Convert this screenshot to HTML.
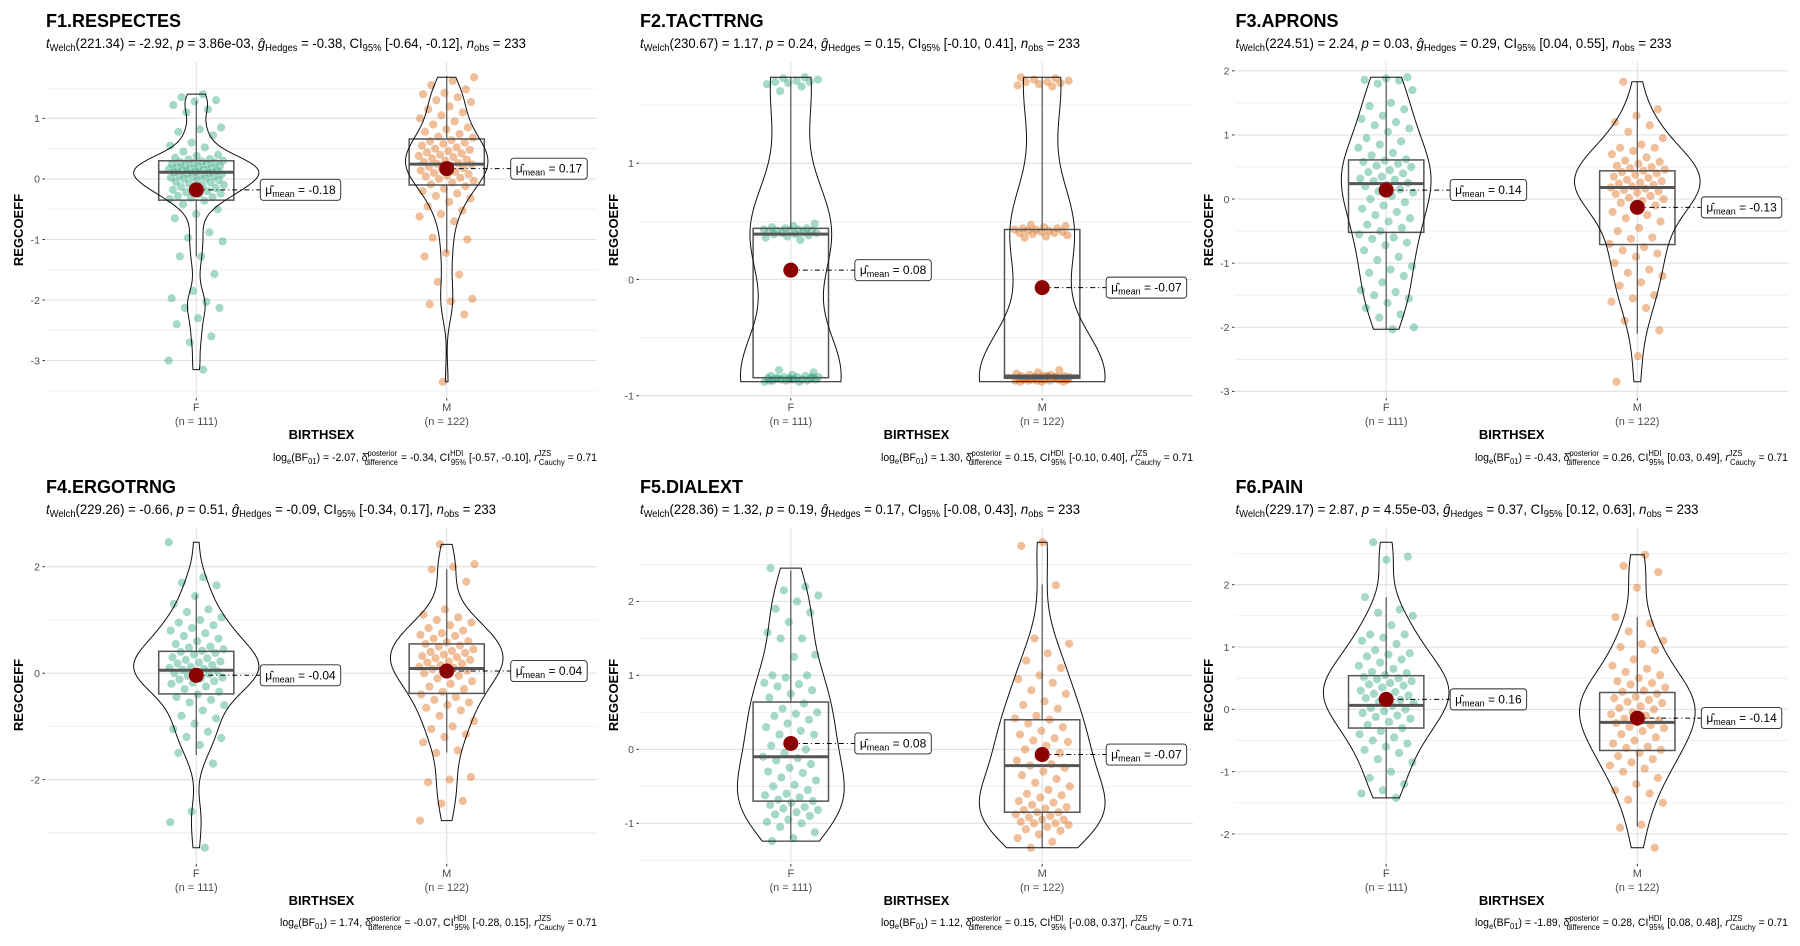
<!DOCTYPE html>
<html><head><meta charset="utf-8"><title>REGCOEFF by BIRTHSEX</title>
<style>
html,body{margin:0;padding:0;background:#fff;}
svg{display:block;font-family:"Liberation Sans",Arial,sans-serif;}
</style></head>
<body>
<svg id="chart" xmlns="http://www.w3.org/2000/svg" width="1800" height="946" viewBox="0 0 1800 946">
<rect x="0" y="0" width="1800" height="946" fill="#fff"/>
<g id="marks"></g>
<g id="texts" fill="#000">
<text x="46" y="27" font-size="18" font-weight="bold">F1.RESPECTES</text>
<text x="640" y="27" font-size="18" font-weight="bold">F2.TACTTRNG</text>
<text x="1235.5" y="27" font-size="18" font-weight="bold">F3.APRONS</text>
<text x="46" y="493" font-size="18" font-weight="bold">F4.ERGOTRNG</text>
<text x="640" y="493" font-size="18" font-weight="bold">F5.DIALEXT</text>
<text x="1235.5" y="493" font-size="18" font-weight="bold">F6.PAIN</text>
<text x="46" y="48" font-size="14" textLength="480" lengthAdjust="spacingAndGlyphs"><tspan font-style="italic">t</tspan><tspan font-size="10" dy="3">Welch</tspan><tspan dy="-3">(221.34) = -2.92, </tspan><tspan font-style="italic">p</tspan><tspan> = 3.86e-03, </tspan><tspan font-style="italic">ĝ</tspan><tspan font-size="10" dy="3">Hedges</tspan><tspan dy="-3"> = -0.38, CI</tspan><tspan font-size="10" dy="3">95%</tspan><tspan dy="-3"> [-0.64, -0.12], </tspan><tspan font-style="italic">n</tspan><tspan font-size="10" dy="3">obs</tspan><tspan dy="-3"> = 233</tspan></text>
<text x="640" y="48" font-size="14" textLength="440" lengthAdjust="spacingAndGlyphs"><tspan font-style="italic">t</tspan><tspan font-size="10" dy="3">Welch</tspan><tspan dy="-3">(230.67) = 1.17, </tspan><tspan font-style="italic">p</tspan><tspan> = 0.24, </tspan><tspan font-style="italic">ĝ</tspan><tspan font-size="10" dy="3">Hedges</tspan><tspan dy="-3"> = 0.15, CI</tspan><tspan font-size="10" dy="3">95%</tspan><tspan dy="-3"> [-0.10, 0.41], </tspan><tspan font-style="italic">n</tspan><tspan font-size="10" dy="3">obs</tspan><tspan dy="-3"> = 233</tspan></text>
<text x="1235.5" y="48" font-size="14" textLength="436" lengthAdjust="spacingAndGlyphs"><tspan font-style="italic">t</tspan><tspan font-size="10" dy="3">Welch</tspan><tspan dy="-3">(224.51) = 2.24, </tspan><tspan font-style="italic">p</tspan><tspan> = 0.03, </tspan><tspan font-style="italic">ĝ</tspan><tspan font-size="10" dy="3">Hedges</tspan><tspan dy="-3"> = 0.29, CI</tspan><tspan font-size="10" dy="3">95%</tspan><tspan dy="-3"> [0.04, 0.55], </tspan><tspan font-style="italic">n</tspan><tspan font-size="10" dy="3">obs</tspan><tspan dy="-3"> = 233</tspan></text>
<text x="46" y="514" font-size="14" textLength="450" lengthAdjust="spacingAndGlyphs"><tspan font-style="italic">t</tspan><tspan font-size="10" dy="3">Welch</tspan><tspan dy="-3">(229.26) = -0.66, </tspan><tspan font-style="italic">p</tspan><tspan> = 0.51, </tspan><tspan font-style="italic">ĝ</tspan><tspan font-size="10" dy="3">Hedges</tspan><tspan dy="-3"> = -0.09, CI</tspan><tspan font-size="10" dy="3">95%</tspan><tspan dy="-3"> [-0.34, 0.17], </tspan><tspan font-style="italic">n</tspan><tspan font-size="10" dy="3">obs</tspan><tspan dy="-3"> = 233</tspan></text>
<text x="640" y="514" font-size="14" textLength="440" lengthAdjust="spacingAndGlyphs"><tspan font-style="italic">t</tspan><tspan font-size="10" dy="3">Welch</tspan><tspan dy="-3">(228.36) = 1.32, </tspan><tspan font-style="italic">p</tspan><tspan> = 0.19, </tspan><tspan font-style="italic">ĝ</tspan><tspan font-size="10" dy="3">Hedges</tspan><tspan dy="-3"> = 0.17, CI</tspan><tspan font-size="10" dy="3">95%</tspan><tspan dy="-3"> [-0.08, 0.43], </tspan><tspan font-style="italic">n</tspan><tspan font-size="10" dy="3">obs</tspan><tspan dy="-3"> = 233</tspan></text>
<text x="1235.5" y="514" font-size="14" textLength="463" lengthAdjust="spacingAndGlyphs"><tspan font-style="italic">t</tspan><tspan font-size="10" dy="3">Welch</tspan><tspan dy="-3">(229.17) = 2.87, </tspan><tspan font-style="italic">p</tspan><tspan> = 4.55e-03, </tspan><tspan font-style="italic">ĝ</tspan><tspan font-size="10" dy="3">Hedges</tspan><tspan dy="-3"> = 0.37, CI</tspan><tspan font-size="10" dy="3">95%</tspan><tspan dy="-3"> [0.12, 0.63], </tspan><tspan font-style="italic">n</tspan><tspan font-size="10" dy="3">obs</tspan><tspan dy="-3"> = 233</tspan></text>
<text x="273" y="461" font-size="11" textLength="324" lengthAdjust="spacingAndGlyphs">log<tspan font-size="8" dy="3">e</tspan><tspan dy="-3">(BF</tspan><tspan font-size="8" dy="3">01</tspan><tspan dy="-3">) = -2.07, δ̂</tspan><tspan font-size="8" dy="-5">posterior</tspan><tspan font-size="8" dx="-34" dy="9">difference</tspan><tspan dy="-4"> = -0.34, CI</tspan><tspan font-size="8" dy="-5">HDI</tspan><tspan font-size="8" dx="-13" dy="9">95%</tspan><tspan dy="-4"> [-0.57, -0.10], </tspan><tspan font-style="italic">r</tspan><tspan font-size="8" dy="-5">JZS</tspan><tspan font-size="8" dx="-13" dy="9">Cauchy</tspan><tspan dy="-4"> = 0.71</tspan></text>
<text x="881" y="461" font-size="11" textLength="312" lengthAdjust="spacingAndGlyphs">log<tspan font-size="8" dy="3">e</tspan><tspan dy="-3">(BF</tspan><tspan font-size="8" dy="3">01</tspan><tspan dy="-3">) = 1.30, δ̂</tspan><tspan font-size="8" dy="-5">posterior</tspan><tspan font-size="8" dx="-34" dy="9">difference</tspan><tspan dy="-4"> = 0.15, CI</tspan><tspan font-size="8" dy="-5">HDI</tspan><tspan font-size="8" dx="-13" dy="9">95%</tspan><tspan dy="-4"> [-0.10, 0.40], </tspan><tspan font-style="italic">r</tspan><tspan font-size="8" dy="-5">JZS</tspan><tspan font-size="8" dx="-13" dy="9">Cauchy</tspan><tspan dy="-4"> = 0.71</tspan></text>
<text x="1475" y="461" font-size="11" textLength="313" lengthAdjust="spacingAndGlyphs">log<tspan font-size="8" dy="3">e</tspan><tspan dy="-3">(BF</tspan><tspan font-size="8" dy="3">01</tspan><tspan dy="-3">) = -0.43, δ̂</tspan><tspan font-size="8" dy="-5">posterior</tspan><tspan font-size="8" dx="-34" dy="9">difference</tspan><tspan dy="-4"> = 0.26, CI</tspan><tspan font-size="8" dy="-5">HDI</tspan><tspan font-size="8" dx="-13" dy="9">95%</tspan><tspan dy="-4"> [0.03, 0.49], </tspan><tspan font-style="italic">r</tspan><tspan font-size="8" dy="-5">JZS</tspan><tspan font-size="8" dx="-13" dy="9">Cauchy</tspan><tspan dy="-4"> = 0.71</tspan></text>
<text x="280" y="926" font-size="11" textLength="317" lengthAdjust="spacingAndGlyphs">log<tspan font-size="8" dy="3">e</tspan><tspan dy="-3">(BF</tspan><tspan font-size="8" dy="3">01</tspan><tspan dy="-3">) = 1.74, δ̂</tspan><tspan font-size="8" dy="-5">posterior</tspan><tspan font-size="8" dx="-34" dy="9">difference</tspan><tspan dy="-4"> = -0.07, CI</tspan><tspan font-size="8" dy="-5">HDI</tspan><tspan font-size="8" dx="-13" dy="9">95%</tspan><tspan dy="-4"> [-0.28, 0.15], </tspan><tspan font-style="italic">r</tspan><tspan font-size="8" dy="-5">JZS</tspan><tspan font-size="8" dx="-13" dy="9">Cauchy</tspan><tspan dy="-4"> = 0.71</tspan></text>
<text x="881" y="926" font-size="11" textLength="312" lengthAdjust="spacingAndGlyphs">log<tspan font-size="8" dy="3">e</tspan><tspan dy="-3">(BF</tspan><tspan font-size="8" dy="3">01</tspan><tspan dy="-3">) = 1.12, δ̂</tspan><tspan font-size="8" dy="-5">posterior</tspan><tspan font-size="8" dx="-34" dy="9">difference</tspan><tspan dy="-4"> = 0.15, CI</tspan><tspan font-size="8" dy="-5">HDI</tspan><tspan font-size="8" dx="-13" dy="9">95%</tspan><tspan dy="-4"> [-0.08, 0.37], </tspan><tspan font-style="italic">r</tspan><tspan font-size="8" dy="-5">JZS</tspan><tspan font-size="8" dx="-13" dy="9">Cauchy</tspan><tspan dy="-4"> = 0.71</tspan></text>
<text x="1475" y="926" font-size="11" textLength="313" lengthAdjust="spacingAndGlyphs">log<tspan font-size="8" dy="3">e</tspan><tspan dy="-3">(BF</tspan><tspan font-size="8" dy="3">01</tspan><tspan dy="-3">) = -1.89, δ̂</tspan><tspan font-size="8" dy="-5">posterior</tspan><tspan font-size="8" dx="-34" dy="9">difference</tspan><tspan dy="-4"> = 0.28, CI</tspan><tspan font-size="8" dy="-5">HDI</tspan><tspan font-size="8" dx="-13" dy="9">95%</tspan><tspan dy="-4"> [0.08, 0.48], </tspan><tspan font-style="italic">r</tspan><tspan font-size="8" dy="-5">JZS</tspan><tspan font-size="8" dx="-13" dy="9">Cauchy</tspan><tspan dy="-4"> = 0.71</tspan></text>
<text x="321.5" y="439" font-size="13" font-weight="bold" text-anchor="middle">BIRTHSEX</text>
<text x="916.5" y="439" font-size="13" font-weight="bold" text-anchor="middle">BIRTHSEX</text>
<text x="1511.7" y="439" font-size="13" font-weight="bold" text-anchor="middle">BIRTHSEX</text>
<text x="321.5" y="905" font-size="13" font-weight="bold" text-anchor="middle">BIRTHSEX</text>
<text x="916.5" y="905" font-size="13" font-weight="bold" text-anchor="middle">BIRTHSEX</text>
<text x="1511.7" y="905" font-size="13" font-weight="bold" text-anchor="middle">BIRTHSEX</text>
<text transform="translate(23,230) rotate(-90)" font-size="13" font-weight="bold" text-anchor="middle">REGCOEFF</text>
<text transform="translate(618,230) rotate(-90)" font-size="13" font-weight="bold" text-anchor="middle">REGCOEFF</text>
<text transform="translate(1213,230) rotate(-90)" font-size="13" font-weight="bold" text-anchor="middle">REGCOEFF</text>
<text transform="translate(23,695) rotate(-90)" font-size="13" font-weight="bold" text-anchor="middle">REGCOEFF</text>
<text transform="translate(618,695) rotate(-90)" font-size="13" font-weight="bold" text-anchor="middle">REGCOEFF</text>
<text transform="translate(1213,695) rotate(-90)" font-size="13" font-weight="bold" text-anchor="middle">REGCOEFF</text>
</g>
</svg>
<script>
const categories = ["F", "M"];
const groupCounts = [111, 122];
const panelNames = ["f1-respectes", "f2-tacttrng", "f3-aprons", "f4-ergotrng", "f5-dialext", "f6-pain"];

const f1Values = [1.40,1.35,1.30,1.28,1.22,1.15,1.10,0.85,0.82,0.78,0.72,0.60,0.55,0.52,0.45,0.40,0.38,0.35,0.33,
 0.32,0.30,0.29,0.28,0.27,0.26,0.25,0.24,0.22,0.21,0.20,0.19,0.18,0.17,0.16,0.15,0.14,0.13,0.12,0.11,0.10,0.09,0.08,0.07,0.06,0.05,0.04,0.02,0.01,0.0,
 -0.02,-0.03,-0.05,-0.06,-0.08,-0.10,-0.11,-0.13,-0.15,-0.16,-0.18,-0.20,-0.22,-0.24,-0.25,-0.28,-0.30,-0.31,-0.33,-0.36,
 -0.42,-0.50,-0.58,-0.65,-0.88,-0.97,-1.03,-1.28,-1.28,-1.57,-1.85,-1.97,-2.03,-2.13,-2.13,-2.30,-2.40,-2.60,-2.70,-3.00,-3.15];
const m1Values = [1.68,1.62,1.55,1.48,1.42,1.40,1.35,1.30,1.27,1.20,1.15,1.10,1.05,1.00,0.95,0.90,0.85,0.82,0.78,0.74,0.70,0.68,
 0.64,0.62,0.60,0.58,0.55,0.52,0.50,0.48,0.46,0.44,0.42,0.40,0.38,0.36,0.34,0.32,0.30,0.28,0.26,0.25,0.24,0.22,0.20,0.18,0.16,0.14,0.12,0.10,0.08,0.06,0.04,0.02,0.0,-0.03,-0.06,-0.09,
 -0.12,-0.16,-0.20,-0.24,-0.28,-0.32,-0.38,-0.45,-0.52,-0.58,-0.62,-0.70,-0.97,-1.00,-1.22,-1.28,-1.58,-1.70,-1.98,-2.02,-2.07,-2.24,-3.35];

const f2Values = [1.74,1.73,1.72,1.71,1.70,1.70,1.69,1.68,1.66,1.62,
 0.48,0.46,0.45,0.44,0.44,0.43,0.43,0.42,0.42,0.42,0.41,0.41,0.40,0.40,0.39,0.39,0.38,0.37,0.36,0.34,
 -0.78,-0.80,-0.82,-0.83,-0.83,-0.84,-0.84,-0.84,-0.85,-0.85,-0.85,-0.85,-0.86,-0.86,-0.86,-0.86,-0.87,-0.87,-0.87,-0.88,-0.88,-0.85,-0.84,-0.86,-0.87];
const m2Values = [1.74,1.73,1.72,1.71,1.70,1.70,1.69,1.68,1.67,1.66,
 0.47,0.46,0.45,0.44,0.44,0.43,0.43,0.42,0.42,0.41,0.41,0.40,0.40,0.39,0.38,0.37,0.36,
 -0.78,-0.80,-0.81,-0.82,-0.82,-0.83,-0.83,-0.83,-0.84,-0.84,-0.84,-0.84,-0.85,-0.85,-0.85,-0.85,-0.85,-0.86,-0.86,-0.86,-0.86,-0.86,-0.87,-0.87,-0.87,-0.87,-0.88,-0.88,-0.88,-0.84,-0.85,-0.86,-0.83,-0.85];

const f3Values = [1.90,1.88,1.86,1.85,1.80,1.70,1.50,1.45,1.40,1.30,1.25,1.20,1.15,1.10,1.05,0.95,0.90,0.85,0.80,0.72,0.68,0.62,0.60,0.58,0.55,0.52,0.50,0.45,0.42,0.40,0.35,0.32,0.30,0.28,0.25,0.22,0.20,0.15,0.12,0.10,0.05,0.0,-0.05,-0.10,-0.15,-0.20,-0.25,-0.30,-0.35,-0.40,-0.45,-0.50,-0.55,-0.60,-0.62,-0.68,-0.72,-0.80,-0.90,-0.95,-1.05,-1.10,-1.15,-1.20,-1.30,-1.42,-1.45,-1.50,-1.55,-1.62,-1.70,-1.80,-1.85,-2.00,-2.03];
const m3Values = [1.83,1.40,1.30,1.20,1.15,1.05,0.95,0.85,0.80,0.80,0.75,0.70,0.65,0.60,0.58,0.55,0.52,0.50,0.48,0.46,0.44,0.42,0.40,0.38,0.35,0.33,0.30,0.28,0.26,0.24,0.22,0.20,0.18,0.16,0.14,0.12,0.10,0.08,0.05,0.02,0.0,-0.03,-0.06,-0.10,-0.15,-0.20,-0.25,-0.30,-0.35,-0.45,-0.50,-0.60,-0.62,-0.70,-0.75,-0.80,-0.85,-0.90,-1.00,-1.10,-1.15,-1.20,-1.30,-1.35,-1.50,-1.55,-1.60,-1.70,-1.90,-2.05,-2.45,-2.85];

const f4Values = [2.46,1.80,1.70,1.65,1.45,1.30,1.20,1.15,1.05,1.00,0.95,0.90,0.85,0.80,0.75,0.70,0.65,0.60,0.55,0.50,0.48,0.45,0.42,0.40,0.38,0.35,0.30,0.28,0.25,0.22,0.20,0.18,0.15,0.12,0.10,0.08,0.06,0.04,0.02,0.0,-0.02,-0.05,-0.08,-0.10,-0.12,-0.15,-0.18,-0.20,-0.25,-0.30,-0.35,-0.40,-0.45,-0.50,-0.55,-0.60,-0.70,-0.80,-0.85,-0.95,-1.05,-1.10,-1.20,-1.22,-1.35,-1.50,-1.70,-2.60,-2.80,-3.28];
const m4Values = [2.42,2.05,2.00,1.95,1.72,1.20,1.10,1.05,1.00,0.95,0.90,0.85,0.80,0.75,0.72,0.70,0.65,0.60,0.58,0.55,0.52,0.50,0.45,0.42,0.40,0.38,0.35,0.32,0.30,0.28,0.25,0.22,0.20,0.18,0.15,0.12,0.10,0.08,0.05,0.02,0.0,-0.05,-0.10,-0.15,-0.20,-0.25,-0.30,-0.35,-0.40,-0.45,-0.50,-0.55,-0.60,-0.65,-0.70,-0.80,-0.90,-1.00,-1.05,-1.15,-1.20,-1.30,-1.45,-1.50,-1.95,-2.00,-2.05,-2.40,-2.45,-2.77];

const f5Values = [2.45,2.20,2.15,2.08,2.00,1.90,1.85,1.72,1.58,1.50,1.50,1.28,1.25,1.00,1.00,0.97,0.90,0.88,0.85,0.80,0.75,0.70,0.62,0.55,0.50,0.48,0.45,0.40,0.35,0.30,0.25,0.20,0.20,0.12,0.05,0.0,-0.05,-0.10,-0.12,-0.15,-0.20,-0.25,-0.30,-0.32,-0.38,-0.42,-0.48,-0.50,-0.55,-0.60,-0.62,-0.65,-0.68,-0.70,-0.72,-0.75,-0.78,-0.80,-0.82,-0.85,-0.88,-0.90,-0.95,-0.98,-1.00,-1.05,-1.12,-1.20,-1.24];
const m5Values = [2.80,2.75,2.22,1.50,1.43,1.30,1.20,1.10,1.00,0.95,0.90,0.80,0.75,0.65,0.60,0.55,0.45,0.42,0.40,0.35,0.30,0.25,0.20,0.15,0.12,0.10,0.05,0.0,-0.05,-0.10,-0.15,-0.20,-0.22,-0.25,-0.30,-0.35,-0.40,-0.45,-0.50,-0.55,-0.60,-0.62,-0.65,-0.70,-0.72,-0.75,-0.78,-0.80,-0.82,-0.85,-0.85,-0.88,-0.90,-0.92,-0.95,-0.95,-0.98,-1.00,-1.00,-1.02,-1.05,-1.08,-1.10,-1.15,-1.20,-1.25,-1.33];

const f6Values = [2.68,2.45,2.40,1.80,1.60,1.55,1.50,1.35,1.20,1.20,1.15,1.10,1.05,0.95,0.90,0.88,0.85,0.80,0.75,0.70,0.65,0.60,0.58,0.55,0.52,0.50,0.48,0.45,0.42,0.40,0.38,0.35,0.30,0.28,0.25,0.22,0.20,0.18,0.15,0.12,0.10,0.06,0.02,0.0,-0.03,-0.06,-0.10,-0.12,-0.15,-0.20,-0.25,-0.30,-0.35,-0.40,-0.45,-0.50,-0.55,-0.60,-0.65,-0.70,-0.80,-0.85,-1.00,-1.10,-1.20,-1.30,-1.35,-1.42];
const m6Values = [2.48,2.30,2.20,1.95,1.48,1.38,1.25,1.10,1.05,1.00,0.95,0.80,0.70,0.65,0.60,0.55,0.50,0.45,0.42,0.40,0.35,0.30,0.28,0.25,0.20,0.18,0.15,0.12,0.10,0.05,0.02,0.0,-0.05,-0.08,-0.10,-0.15,-0.18,-0.20,-0.22,-0.25,-0.28,-0.30,-0.35,-0.40,-0.45,-0.50,-0.55,-0.60,-0.62,-0.65,-0.70,-0.75,-0.80,-0.85,-0.90,-0.95,-1.00,-1.10,-1.20,-1.30,-1.35,-1.45,-1.50,-1.85,-1.90,-2.22];

const q1F  = [-0.35, -0.845, -0.52, -0.39, -0.70, -0.30];
const medF = [ 0.11,  0.39,   0.24,  0.056,-0.10,  0.064];
const q3F  = [ 0.30,  0.44,   0.61,  0.41,  0.64,  0.54];
const loF  = [-1.28, -0.88,  -2.03, -1.54, -1.22, -1.42];
const hiF  = [ 1.29,  1.74,   1.89,  1.48,  2.42,  1.80];
const q1M  = [-0.10, -0.85,  -0.71, -0.38, -0.85, -0.66];
const medM = [ 0.245,-0.83,   0.18,  0.088,-0.22, -0.21];
const q3M  = [ 0.66,  0.43,   0.44,  0.55,  0.40,  0.27];
const loM  = [-1.22, -0.85,  -2.10, -1.49, -1.33, -1.88];
const hiM  = [ 1.70,  1.74,   1.83,  1.95,  2.23,  1.48];
const meansF = [-0.18, 0.08, 0.14, -0.04, 0.08, 0.16];
const meansM = [ 0.17,-0.07,-0.13,  0.04,-0.07,-0.14];

const yTicks1 = [-3, -2, -1, 0, 1];
const yTicks2 = [-1, 0, 1];
const yTicks3 = [-3, -2, -1, 0, 1, 2];
const yTicks4 = [-2, 0, 2];
const yTicks5 = [-1, 0, 1, 2];
const yTicks6 = [-2, -1, 0, 1, 2];

const colLeft = [46, 640, 1235.5], colRight = [597, 1193, 1788];
const rowTop = [62, 527], rowBottom = [397, 863];
const NS = "http://www.w3.org/2000/svg";
const root = document.getElementById("marks");
function mk(tag, attrs, parent) {
  const e = document.createElementNS(NS, tag);
  for (const k in attrs) e.setAttribute(k, attrs[k]);
  parent.appendChild(e);
  return e;
}
function quantile(s, p) { const h = (s.length - 1) * p, l = Math.floor(h); return s[l] + (h - l) * (s[Math.min(l + 1, s.length - 1)] - s[l]); }
function bwNrd0(v) {
  const n = v.length, m = v.reduce((a, b) => a + b, 0) / n;
  const sd = Math.sqrt(v.reduce((a, b) => a + (b - m) * (b - m), 0) / (n - 1));
  const s = v.slice().sort((a, b) => a - b);
  const iqr = quantile(s, 0.75) - quantile(s, 0.25);
  let lo = Math.min(sd, iqr / 1.34);
  if (!(lo > 0)) lo = sd || 1;
  return 0.9 * lo * Math.pow(n, -0.2);
}
function kde(v, bw, grid) {
  const c = 1 / (v.length * bw * Math.sqrt(2 * Math.PI));
  return grid.map(g => { let s = 0; for (const x of v) { const z = (g - x) / bw; s += Math.exp(-0.5 * z * z); } return s * c; });
}
function fmt(v) { return (v < 0 ? "-" : "") + Math.abs(v).toFixed(2); }

const fSets = [f1Values, f2Values, f3Values, f4Values, f5Values, f6Values];
const mSets = [m1Values, m2Values, m3Values, m4Values, m5Values, m6Values];
const tickSets = [yTicks1, yTicks2, yTicks3, yTicks4, yTicks5, yTicks6];
const colors = ["#1B9E77", "#D95F02"];

for (let p = 0; p < 6; p++) {
  const col = p % 3, row = Math.floor(p / 3);
  const L = colLeft[col], R = colRight[col], T = rowTop[row], B = rowBottom[row];
  const groups = [fSets[p], mSets[p]];
  const all = groups[0].concat(groups[1]);
  const dmin = Math.min(...all), dmax = Math.max(...all), pad = 0.05 * (dmax - dmin);
  const d0 = dmin - pad, d1 = dmax + pad;
  const y = v => B - (v - d0) / (d1 - d0) * (B - T);
  const x = i => L + (R - L) * ((i + 1) - 0.4) / 2.2;
  const spacing = x(1) - x(0);
  const g = mk("g", {}, root);
  
  

  const ticks = tickSets[p];
  const step = ticks.length > 1 ? ticks[1] - ticks[0] : 1;
  const minors = [];
  for (let k = ticks[0] - step / 2; k <= d1; k += step) if (k >= d0) minors.push(k);
  minors.forEach(v => {
    const ln = mk("line", { x1: L, x2: R, y1: y(v), y2: y(v), stroke: "#ececec", "stroke-width": 0.8 }, g);
    
    
  });
  ticks.forEach(v => {
    const ln = mk("line", { x1: L, x2: R, y1: y(v), y2: y(v), stroke: "#e3e3e3", "stroke-width": 1.2 }, g);
    
    
    const tk = mk("line", { x1: L - 3.5, x2: L - 1, y1: y(v), y2: y(v), stroke: "#333", "stroke-width": 1 }, g);
    
    
    const tl = mk("text", { x: L - 6, y: y(v) + 3.8, "font-size": 10.5, fill: "#4d4d4d", "text-anchor": "end" }, g);
    tl.textContent = String(v);
    
    
  });
  categories.forEach((c, i) => {
    const vl = mk("line", { x1: x(i), x2: x(i), y1: T, y2: B, stroke: "#e3e3e3", "stroke-width": 1.2 }, g);
    
    
    const tk = mk("line", { x1: x(i), x2: x(i), y1: B + 1, y2: B + 3.5, stroke: "#333", "stroke-width": 1 }, g);
    
    
    const t1 = mk("text", { x: x(i), y: B + 14, "font-size": 11, fill: "#4d4d4d", "text-anchor": "middle" }, g);
    t1.textContent = c;
    
    
    const t2 = mk("text", { x: x(i), y: B + 28, "font-size": 11, fill: "#4d4d4d", "text-anchor": "middle" }, g);
    t2.textContent = "(n = " + groupCounts[i] + ")";
    
    
  });

  groups.forEach((vals, i) => {
    vals.forEach((v, k) => {
      const u = ((k + 1) * 0.6180339887 + i * 0.37 + p * 0.13) % 1;
      const j = (u - 0.5) * 2 * 28;
      const c = mk("circle", { cx: x(i) + j, cy: y(v), r: 4.1, fill: colors[i], "fill-opacity": 0.4 }, g);
      
      
    });
  });

  const boxes = [[q1F[p], medF[p], q3F[p], loF[p], hiF[p]], [q1M[p], medM[p], q3M[p], loM[p], hiM[p]]];
  boxes.forEach((b, i) => {
    const cx = x(i), hw = spacing * 0.15;
    const w1 = mk("line", { x1: cx, x2: cx, y1: y(b[2]), y2: y(b[4]), stroke: "#555", "stroke-width": 1.2 }, g);
    
    
    const w2 = mk("line", { x1: cx, x2: cx, y1: y(b[0]), y2: y(b[3]), stroke: "#555", "stroke-width": 1.2 }, g);
    
    
    const r = mk("rect", { x: cx - hw, y: y(b[2]), width: 2 * hw, height: Math.max(0.5, y(b[0]) - y(b[2])), fill: "none", stroke: "#555", "stroke-width": 1.5 }, g);
    
    
    const md = mk("line", { x1: cx - hw, x2: cx + hw, y1: y(b[1]), y2: y(b[1]), stroke: "#555", "stroke-width": 3 }, g);
    
    
  });

  const dens = groups.map(vals => {
    const lo = Math.min(...vals), hi = Math.max(...vals), bw = bwNrd0(vals) * 1.15, N = 200;
    const grid = []; for (let k = 0; k < N; k++) grid.push(lo + (hi - lo) * k / (N - 1));
    return { grid, d: kde(vals, bw, grid) };
  });
  const maxD = Math.max(...dens.map(o => Math.max(...o.d)));
  dens.forEach((o, i) => {
    const cx = x(i), half = spacing * 0.25;
    let pts = [];
    o.grid.forEach((v, k) => pts.push([cx + o.d[k] / maxD * half, y(v)]));
    for (let k = o.grid.length - 1; k >= 0; k--) pts.push([cx - o.d[k] / maxD * half, y(o.grid[k])]);
    const path = mk("path", { d: "M" + pts.map(q => q[0].toFixed(2) + "," + q[1].toFixed(2)).join("L") + "Z", fill: "none", stroke: "#111", "stroke-width": 1 }, g);
    
    
  });

  [meansF[p], meansM[p]].forEach((mv, i) => {
    const cx = x(i), cy = y(mv), bx = cx + 64;
    const dl = mk("line", { x1: cx, x2: bx, y1: cy, y2: cy, stroke: "#000", "stroke-width": 1, "stroke-dasharray": "5,3,1,3" }, g);
    
    
    const mp = mk("circle", { cx: cx, cy: cy, r: 7.5, fill: "#8B0000" }, g);
    
    
    const rect = mk("rect", { x: bx, y: cy - 10.5, width: 70, height: 21, rx: 3, fill: "#fff", stroke: "#222", "stroke-width": 0.9 }, g);
    
    
    const t = mk("text", { x: bx + 5, y: cy + 4, "font-size": 12, fill: "#000" }, g);
    
    
    const s1 = mk("tspan", {}, t); s1.textContent = "μ̂";
    const s2 = mk("tspan", { "font-size": 9, dy: 3 }, t); s2.textContent = "mean";
    const s3 = mk("tspan", { dy: -3 }, t); s3.textContent = " = " + fmt(mv);
    try { const w = t.getComputedTextLength(); if (w > 0) rect.setAttribute("width", w + 10); } catch (e) {}
  });
}
</script>
</body></html>
